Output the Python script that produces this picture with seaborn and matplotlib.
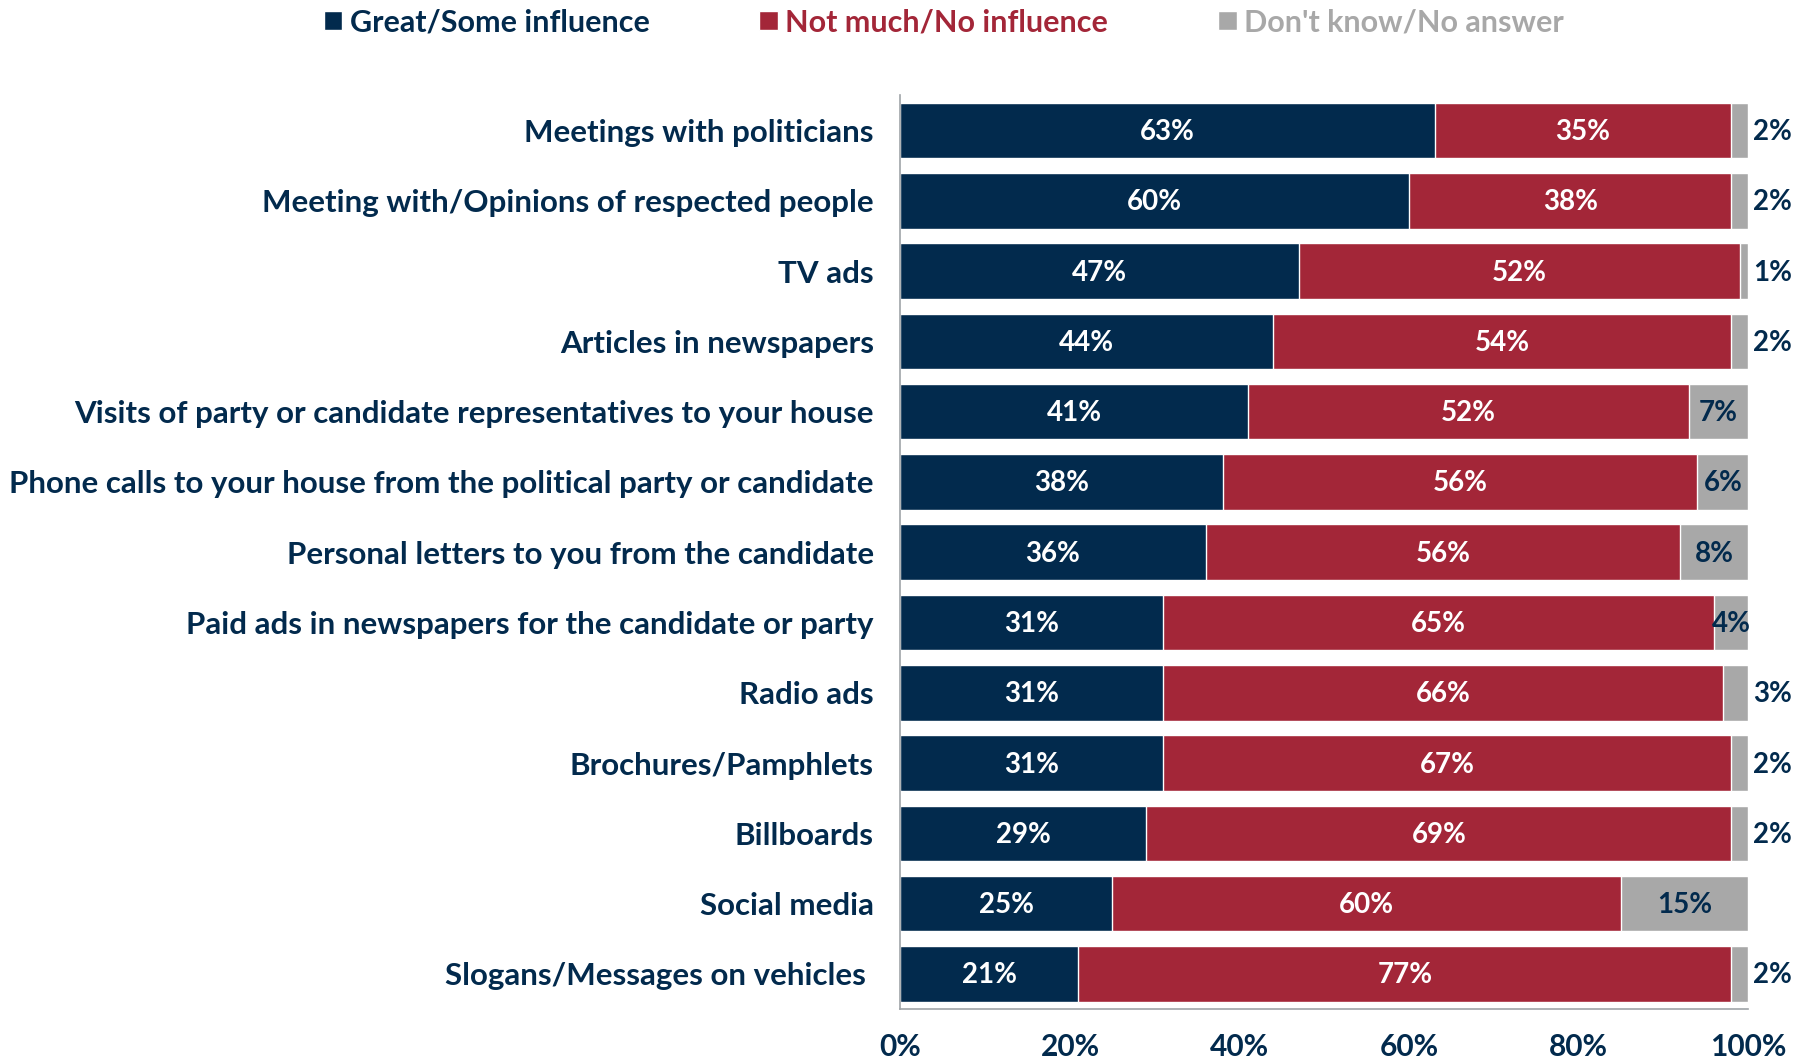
import numpy as np
import pandas as pd
import matplotlib
matplotlib.use('Agg')
import matplotlib.pyplot as plt
import matplotlib.ticker as mticker
from matplotlib.patches import Patch
import seaborn as sns

# data
items = ['Meetings with politicians',
         'Meeting with/Opinions of respected people',
         'TV ads',
         'Articles in newspapers',
         'Visits of party or candidate representatives to your house',
         'Phone calls to your house from the political party or candidate',
         'Personal letters to you from the candidate',
         'Paid ads in newspapers for the candidate or party',
         'Radio ads',
         'Brochures/Pamphlets',
         'Billboards',
         'Social media',
         'Slogans/Messages on vehicles ']
great = [63, 60, 47, 44, 41, 38, 36, 31, 31, 31, 29, 25, 21]
notmuch = [35, 38, 52, 54, 52, 56, 56, 65, 66, 67, 69, 60, 77]
dontknow = [2, 2, 1, 2, 7, 6, 8, 4, 3, 2, 2, 15, 2]
series_names = ['Great/Some influence', 'Not much/No influence', "Don't know/No answer"]

NAVY = '#022a4d'
RED = '#a32638'
GRAY = '#a8a8a8'
AXC = '#a0a4a8'

sns.set_style('white')
plt.rcParams['font.family'] = ['Lato', 'DejaVu Sans']
plt.rcParams['font.weight'] = 'bold'

df = pd.DataFrame({'item': items, 'great': great, 'notmuch': notmuch, 'dk': dontknow})
df['c2'] = df['great'] + df['notmuch']
df['c3'] = df['c2'] + df['dk']

fig = plt.figure(figsize=(18.08, 10.6), dpi=100)
ax = fig.add_axes([0.498, 0.048, 0.469, 0.862])

# stacked by drawing cumulative totals back to front
sns.barplot(data=df, y='item', x='c3', color=GRAY, orient='h', width=0.79,
            saturation=1, ax=ax)
sns.barplot(data=df, y='item', x='c2', color=RED, orient='h', width=0.79,
            saturation=1, ax=ax)
sns.barplot(data=df, y='item', x='great', color=NAVY, orient='h', width=0.79,
            saturation=1, ax=ax)

lab_fs = 20
for i, r in df.iterrows():
    y = i + 0.02
    ax.text(r['great'] / 2, y, f"{r['great']}%", color='white', ha='center',
            va='center', fontsize=lab_fs, fontweight='bold')
    ax.text(r['great'] + r['notmuch'] / 2, y, f"{r['notmuch']}%", color='white',
            ha='center', va='center', fontsize=lab_fs, fontweight='bold')
    if r['dk'] >= 4:
        ax.text(r['c2'] + r['dk'] / 2, y, f"{r['dk']}%", color=NAVY,
                ha='center', va='center', fontsize=lab_fs, fontweight='bold')
    else:
        ax.text(100.6, y, f"{r['dk']}%", color=NAVY, ha='left',
                va='center', fontsize=lab_fs, fontweight='bold')

ax.set_xlim(0, 100)
ax.set_ylim(12.5, -0.5)
ax.set_xlabel('')
ax.set_ylabel('')
ax.xaxis.set_major_locator(mticker.MultipleLocator(20))
ax.xaxis.set_major_formatter(mticker.FuncFormatter(lambda v, p: f'{int(v)}%'))
ax.yaxis.set_minor_locator(mticker.FixedLocator(np.arange(-0.5, 13, 1)))
ax.tick_params(axis='y', which='major', length=0, pad=19, labelsize=22.5,
               labelcolor=NAVY)
ax.tick_params(axis='y', which='minor', length=6, color=AXC, width=1.2)
ax.tick_params(axis='x', which='major', length=7, color=AXC, width=1.2,
               labelsize=21.5, labelcolor=NAVY, pad=10)
for lbl in ax.get_yticklabels() + ax.get_xticklabels():
    lbl.set_fontweight('bold')

sns.despine(ax=ax, top=True, right=True)
for s in ['left', 'bottom']:
    ax.spines[s].set_color(AXC)
    ax.spines[s].set_linewidth(1.2)

handles = [Patch(facecolor=c) for c in [NAVY, RED, GRAY]]
fig.legend(handles, series_names, loc='center left', bbox_to_anchor=(0.179, 0.979),
           ncol=3, frameon=False, labelcolor=[NAVY, RED, GRAY],
           handlelength=0.6, handleheight=0.6, handletextpad=0.25,
           columnspacing=3.6, borderpad=0, borderaxespad=0,
           prop={'weight': 'bold', 'size': 22})

fig.savefig('out.png', dpi=100)
